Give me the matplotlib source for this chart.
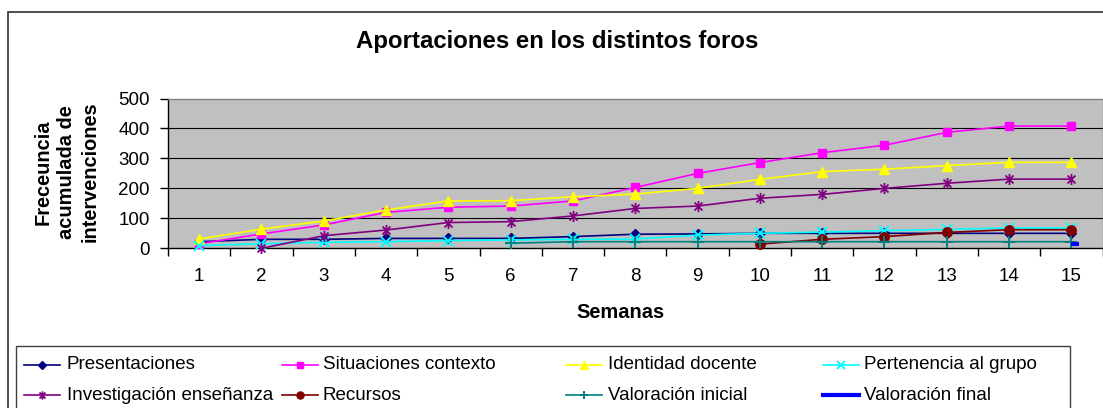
import numpy as np
import matplotlib
matplotlib.use("Agg")
import matplotlib.pyplot as plt
from matplotlib.patches import Rectangle
from matplotlib.lines import Line2D
from matplotlib.path import Path

plt.rcParams['font.family'] = ['Liberation Sans', 'DejaVu Sans']

# ---------------- data ----------------
weeks = list(range(1, 16))
nan = np.nan
presentaciones = [22, 30, 30, 33, 33, 33, 39, 47, 48, 50, 50, 50, 50, 50, 50]
situaciones = [15, 48, 78, 120, 137, 141, 158, 203, 250, 286, 319, 344, 387, 408, 408]
identidad = [31, 64, 91, 128, 158, 159, 172, 181, 200, 230, 256, 264, 276, 287, 287]
pertenencia = [9, 15, 20, 22, 26, 28, 30, 31, 44, 50, 54, 59, 63, 68, 68]
investigacion = [nan, 0, 42, 61, 86, 89, 108, 133, 141, 167, 180, 200, 217, 231, 231]
recursos = [nan] * 9 + [14, 30, 39, 53, 62, 62]
valoracion_inicial = [nan] * 5 + [17, 22, 22, 22, 22, 22, 22, 22, 22, 22]
valoracion_final = [nan] * 14 + [15]

series_names = ["Presentaciones", "Situaciones contexto", "Identidad docente",
                "Pertenencia al grupo", "Investigación enseñanza", "Recursos",
                "Valoración inicial", "Valoración final"]
y_ticks = [0, 100, 200, 300, 400, 500]

title = "Aportaciones en los distintos foros"
xlabel = "Semanas"
ylabel = "Freceuncia\nacumulada de\nintervenciones"

# ---------------- figure ----------------
W, H = 1103, 408
fig = plt.figure(figsize=(W / 100, H / 100), dpi=100)


def fx(x):
    return x / W


def fy(y):
    return 1 - y / H


left, right, top, bottom = 168, 1102.5, 98.5, 248.3
ax = fig.add_axes([fx(left), fy(bottom), fx(right) - fx(left), fy(top) - fy(bottom)])
ax.set_facecolor('#C0C0C0')

star_path = Path([(0, -1), (0, 1), (-0.72, -0.72), (0.72, 0.72), (-0.72, 0.72), (0.72, -0.72)],
                 [Path.MOVETO, Path.LINETO, Path.MOVETO, Path.LINETO, Path.MOVETO, Path.LINETO])
dash_path = Path([(0, 0), (1, 0)], [Path.MOVETO, Path.LINETO])

styles = [
    dict(color='#000080', marker='D', ms=5.2, mfc='#000080', mec='#000080'),
    dict(color='#FF00FF', marker='s', ms=6.3, mfc='#FF00FF', mec='#FF00FF'),
    dict(color='#FFFF00', marker='^', ms=7.8, mfc='#FFFF00', mec='#FFFF00'),
    dict(color='#00FFFF', marker='x', ms=6.8, mew=1.4, mec='#00FFFF'),
    dict(color='#800080', marker=star_path, ms=8, mew=1.3, mec='#800080'),
    dict(color='#800000', marker='o', ms=6.8, mfc='#800000', mec='#800000'),
    dict(color='#008080', marker='+', ms=8, mew=1.4, mec='#008080'),
    dict(color='#0000FF', marker=None),
]
data = [presentaciones, situaciones, identidad, pertenencia,
        investigacion, recursos, valoracion_inicial, valoracion_final]

for name, vals, st in zip(series_names, data, styles):
    if name == "Valoración final":
        ax.plot(weeks, vals, color=st['color'], lw=3, marker=dash_path, ms=12,
                mew=3, mec=st['color'], linestyle='-', clip_on=False, zorder=3)
    else:
        ax.plot(weeks, vals, lw=1.2, clip_on=False, zorder=3, **st)

ax.set_xlim(0.5, 15.5)
ax.set_ylim(0, 500)
ax.set_yticks(y_ticks)
ax.set_yticklabels([str(v) for v in y_ticks])
ax.set_xticks(np.arange(0.5, 15.6, 1.0))
ax.set_xticklabels([])
ax.set_xticks(weeks, minor=True)
ax.set_xticklabels([str(w) for w in weeks], minor=True)
ax.tick_params(axis='x', which='major', length=6, width=1, direction='out', color='black')
ax.tick_params(axis='x', which='minor', length=0, pad=14, labelsize=13.5)
ax.tick_params(axis='y', length=6, width=1, direction='out', pad=7, labelsize=13.5)

for yv in y_ticks[1:-1]:
    ax.axhline(yv, color='black', lw=0.8, zorder=1)

ax.spines['left'].set_color('black')
ax.spines['bottom'].set_color('black')
ax.spines['top'].set_color('#808080')
ax.spines['right'].set_color('#808080')
for s in ax.spines.values():
    s.set_linewidth(1.0)

# titles
fig.text(fx(557), fy(48.3), title, ha='center', va='baseline',
         fontsize=17.3, fontweight='bold')
fig.text(fx(67), fy(172), ylabel, rotation=90, ha='center', va='center',
         multialignment='center', fontsize=14.4, fontweight='bold', linespacing=1.3)
fig.text(fx(620), fy(313), xlabel, ha='center', va='center',
         fontsize=14.4, fontweight='bold')

# outer chart border
fig.add_artist(Rectangle((fx(8), fy(430)), fx(1120) - fx(8), fy(12) - fy(430),
                         transform=fig.transFigure, fill=False, ec='#303030', lw=1.2))
# legend box
fig.add_artist(Rectangle((fx(16), fy(430)), fx(1070) - fx(16), fy(345.7) - fy(430),
                         transform=fig.transFigure, fill=False, ec='#404040', lw=1.0))

line_starts = [24, 282, 566, 823]
text_xs = [67, 323, 608, 864]
row_line_y = [364.7, 394.7]
row_base_y = [369.3, 399.5]
for i, (name, st) in enumerate(zip(series_names, styles)):
    r, c = divmod(i, 4)
    x0 = line_starts[c]
    y = row_line_y[r]
    if name == "Valoración final":
        fig.add_artist(Line2D([fx(x0), fx(x0 + 36)], [fy(y), fy(y)], color=st['color'],
                              lw=3, transform=fig.transFigure))
    else:
        kw = dict(st)
        kw['ms'] = kw['ms'] * 0.75
        fig.add_artist(Line2D([fx(x0), fx(x0 + 18), fx(x0 + 36)], [fy(y)] * 3,
                              lw=1.2, markevery=[1], transform=fig.transFigure, **kw))
    fig.text(fx(text_xs[c]), fy(row_base_y[r]), name, ha='left', va='baseline',
             fontsize=13.5)

fig.savefig("out.png", dpi=100)
